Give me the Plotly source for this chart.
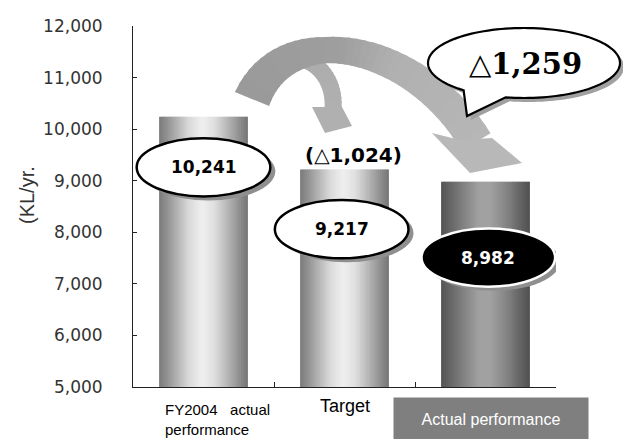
import math
import plotly.graph_objects as go

# Annual fuel consumption (KL/yr)
categories = ["FY2004 actual performance", "Target", "Actual performance"]
fuel_use = [10241, 9217, 8982]
y_ticks = [5000, 6000, 7000, 8000, 9000, 10000, 11000, 12000]

target_cut = fuel_use[0] - fuel_use[1]   # reduction aimed for
actual_cut = fuel_use[0] - fuel_use[2]   # reduction achieved

# ---- page geometry -------------------------------------------------------
W, H = 623, 439
M_L, M_R, M_T, M_B = 133, 67, 26, 52
PW, PH = W - M_L - M_R, H - M_T - M_B
Y_MIN, Y_MAX = 5000, 12000


def paper(px, py):
    """Page pixel -> paper fraction of the plotting area."""
    return (px - M_L) / PW, (H - M_B - py) / PH


def path_of(points):
    pts = [paper(x, y) for x, y in points]
    return "M " + " L ".join(f"{x:.5f},{y:.5f}" for x, y in pts) + " Z"


def hex2rgb(h):
    h = h.lstrip("#")
    return tuple(int(h[i:i + 2], 16) for i in (0, 2, 4))


def ramp(stops, f):
    for (f0, c0), (f1, c1) in zip(stops, stops[1:]):
        if f0 <= f <= f1:
            a, b = hex2rgb(c0), hex2rgb(c1)
            u = (f - f0) / (f1 - f0) if f1 > f0 else 0
            r = [round(a[i] + (b[i] - a[i]) * u) for i in range(3)]
            return f"rgb({r[0]},{r[1]},{r[2]})"
    return stops[-1][1]


def lerp_num(stops, f):
    for (f0, v0), (f1, v1) in zip(stops, stops[1:]):
        if f0 <= f <= f1:
            return v0 + (v1 - v0) * (f - f0) / (f1 - f0)
    return stops[-1][1]


# ---- cylinder-shaded bars (thin overlaid strips) -------------------------
BAR_W = 0.63
N_STRIP = 40
light = [(0, "#7a7a7a"), (0.12, "#9a9a9a"), (0.33, "#d8d8d8"), (0.48, "#efefef"),
         (0.62, "#e0e0e0"), (0.82, "#a8a8a8"), (1, "#747474")]
dark = [(0, "#545454"), (0.18, "#747474"), (0.42, "#a0a0a0"), (0.55, "#a2a2a2"),
        (0.75, "#828282"), (0.92, "#5e5e5e"), (1, "#505050")]
strip = BAR_W / N_STRIP

fig = go.Figure()
for k in range(N_STRIP):
    f = (k + 0.5) / N_STRIP
    cl, cd = ramp(light, f), ramp(dark, f)
    fig.add_trace(go.Bar(
        x=categories, y=fuel_use,
        offset=-BAR_W / 2 + k * strip,
        width=strip * (1.6 if k < N_STRIP - 1 else 1.0),
        marker=dict(color=[cl, cl, cd], line=dict(width=0)),
        hoverinfo="skip", showlegend=False,
    ))

shapes = []
annotations = []


def note(px, py, text, **kw):
    """Text placed at a page position, centred on it."""
    x, y = paper(px, py)
    d = dict(xref="paper", yref="paper", x=x, y=y, xanchor="center", yanchor="middle",
             showarrow=False, text=text)
    d.update(kw)
    annotations.append(d)


# ---- arrows --------------------------------------------------------------
def bez(p, t):
    (x0, y0), (x1, y1), (x2, y2), (x3, y3) = p
    a, b, c, d = (1 - t) ** 3, 3 * (1 - t) ** 2 * t, 3 * (1 - t) * t ** 2, t ** 3
    x = a * x0 + b * x1 + c * x2 + d * x3
    y = a * y0 + b * y1 + c * y2 + d * y3
    dx = 3 * ((1 - t) ** 2 * (x1 - x0) + 2 * (1 - t) * t * (x2 - x1) + t ** 2 * (x3 - x2))
    dy = 3 * ((1 - t) ** 2 * (y1 - y0) + 2 * (1 - t) * t * (y2 - y1) + t ** 2 * (y3 - y2))
    n = (dx * dx + dy * dy) ** 0.5
    return x, y, -dy / n, dx / n


def ribbon(p, thick, colours, n=36):
    res = []
    for i in range(n):
        t0, t1 = i / n, min(1.0, (i + 1.35) / n)
        x0, y0, nx0, ny0 = bez(p, t0)
        x1, y1, nx1, ny1 = bez(p, t1)
        h0, h1 = lerp_num(thick, t0) / 2, lerp_num(thick, t1) / 2
        res.append(([(x0 + nx0 * h0, y0 + ny0 * h0), (x1 + nx1 * h1, y1 + ny1 * h1),
                     (x1 - nx1 * h1, y1 - ny1 * h1), (x0 - nx0 * h0, y0 - ny0 * h0)],
                    ramp(colours, (t0 + t1) / 2)))
    return res


def add_poly(points, fill, line_color=None, line_width=0):
    shapes.append(dict(type="path", xref="paper", yref="paper", layer="above",
                       path=path_of(points), fillcolor=fill,
                       line=dict(color=line_color or fill, width=line_width)))


# small arrow toward the target bar
small_curve = [(306, 60), (325, 68), (335, 88), (333, 110)]
for quad, col in ribbon(small_curve, [(0, 17), (1, 17)], [(0, "#acacac"), (1, "#b0b0b0")], n=16):
    add_poly(quad, col)
add_poly([(324, 107), (312, 107), (325, 133), (352, 126), (342, 107)], "#b0b0b0")

# large arrow toward the actual-performance bar
big_curve = [(252, 99), (285, 18.5), (414, 40), (476, 142)]
for quad, col in ribbon(big_curve, [(0, 37), (0.4, 26), (1, 34)],
                        [(0, "#9a9a9a"), (0.45, "#9e9e9e"), (0.65, "#b0b0b0"), (1, "#b6b6b6")]):
    add_poly(quad, col)
add_poly([(460, 140), (432, 133), (470, 173), (522, 163), (492, 138)], "#b8b8b8")

# ---- speech bubble -------------------------------------------------------
bcx, bcy, brx, bry = 524, 63, 96, 35
bubble = []
for i in range(121):
    a = math.radians(129 + (461 - 129) * i / 120)
    bubble.append((bcx + brx * math.cos(a), bcy + bry * math.sin(a)))
bubble.append((467, 116))
add_poly([(x + 4, y + 4) for x, y in bubble], "#a0a0a0")
add_poly(bubble, "white", "black", 2.2)
note(525, 64, f"△{actual_cut:,}",
     font=dict(family="DejaVu Serif", size=29, color="black", weight="bold"))

# ---- value ellipses ------------------------------------------------------
label_centre = [9260, 8060, 7510]      # vertical position of each value badge
label_shift = [0.0, -0.02, 0.02]       # horizontal nudge, in category widths
half_w, half_h = 0.474, 565
sh_x, sh_y = 5 / (PW / 3), 4 / PH * (Y_MAX - Y_MIN)
for i, v in enumerate(fuel_use):
    cx, cy = i + label_shift[i], label_centre[i]
    shapes.append(dict(type="circle", xref="x", yref="y", layer="above",
                       x0=cx - half_w + sh_x, x1=cx + half_w + sh_x,
                       y0=cy - half_h - sh_y, y1=cy + half_h - sh_y,
                       fillcolor="#8f8f8f", line=dict(width=0)))
    dark_badge = i == 2
    shapes.append(dict(type="circle", xref="x", yref="y", layer="above",
                       x0=cx - half_w, x1=cx + half_w, y0=cy - half_h, y1=cy + half_h,
                       fillcolor="black" if dark_badge else "white",
                       line=dict(color="white" if dark_badge else "black", width=2.5)))
    annotations.append(dict(x=cx, y=cy, xref="x", yref="y", showarrow=False,
                            xanchor="center", yanchor="middle",
                            text=f"{v:,}",
                            font=dict(family="DejaVu Sans", size=17,
                                      color="white" if dark_badge else "black",
                                      weight="bold")))

# target reduction note above the target bar
annotations.append(dict(x=1, y=fuel_use[1], xref="x", yref="y", showarrow=False,
                        xanchor="center", yanchor="middle", yshift=15, xshift=9,
                        text=f"(△{target_cut:,})",
                        font=dict(family="DejaVu Sans", size=20, color="black", weight="bold")))

# ---- category labels -----------------------------------------------------
lx, ly = paper(163, 399)
annotations.append(dict(xref="paper", yref="paper", x=lx, y=ly, xanchor="left", yanchor="top",
                        align="left", showarrow=False,
                        text="FY2004\u00a0\u00a0\u00a0actual<br>performance",
                        font=dict(family="Liberation Sans", size=15, color="black")))
note(345, 406, "Target", font=dict(family="Liberation Sans", size=18, color="black"))
note(491, 419, "Actual performance", bgcolor="#7f7f7f", width=194, height=42, borderpad=0,
     font=dict(family="Liberation Sans", size=16, color="white"))

# axis title
note(27, 195, "(KL/yr.", textangle=-90,
     font=dict(family="Liberation Sans", size=20, color="#333333"))

fig.update_layout(
    width=W, height=H,
    margin=dict(l=M_L, r=M_R, t=M_T, b=M_B, pad=0),
    paper_bgcolor="white", plot_bgcolor="white",
    barmode="overlay", showlegend=False,
    shapes=shapes, annotations=annotations,
    xaxis=dict(type="category", range=[-0.5, 2.5], tickson="boundaries",
               ticks="inside", ticklen=5, tickcolor="#222222",
               showticklabels=False, showgrid=False, zeroline=False,
               showline=True, linecolor="#222222", linewidth=1),
    yaxis=dict(range=[Y_MIN, Y_MAX], tickvals=y_ticks, tickformat=",d",
               ticks="inside", ticklen=4, tickcolor="#222222",
               ticklabelstandoff=26,
               tickfont=dict(family="DejaVu Sans", size=17, color="#333333"),
               showgrid=False, zeroline=False,
               showline=True, linecolor="#222222", linewidth=1),
)

fig.write_html("out.html")
